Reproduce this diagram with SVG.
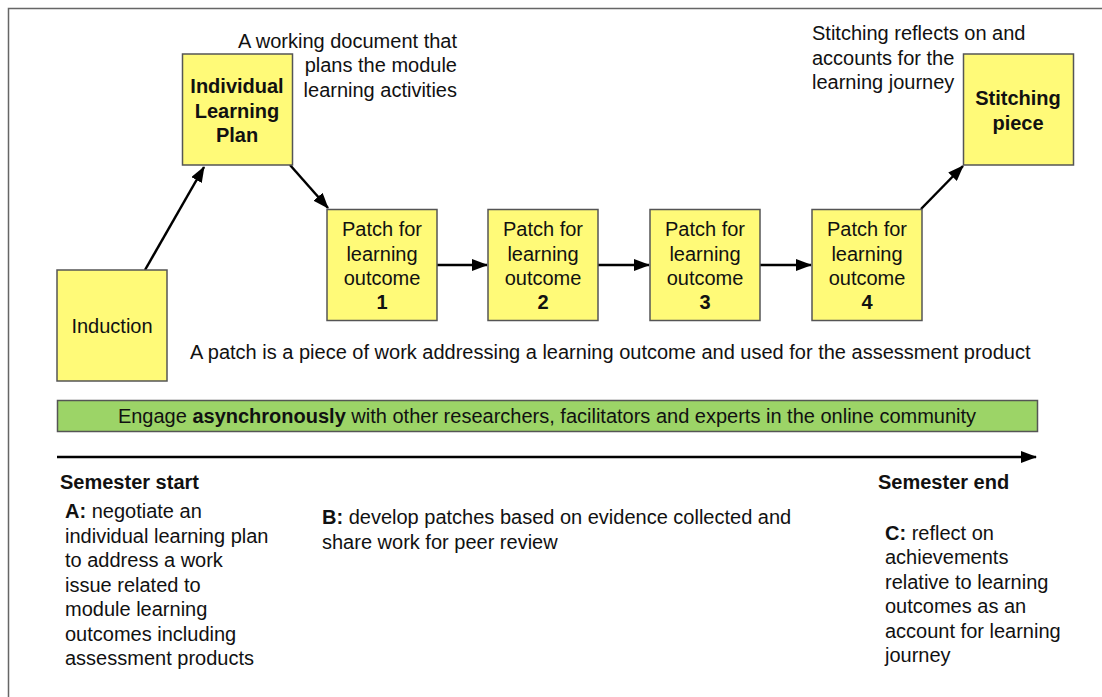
<svg xmlns="http://www.w3.org/2000/svg" width="1102" height="697" viewBox="0 0 1102 697">
  <style>
    text { font-family: "Liberation Sans", Arial, sans-serif; font-size: 20px; fill: #111; }
    .b { font-weight: bold; }
    .c { text-anchor: middle; }
    .r { text-anchor: end; }
    .box { fill: #FFFA78; stroke: #555; stroke-width: 1.5; }
    .bar { fill: #9CD467; stroke: #555; stroke-width: 1.5; }
    .conn { stroke: #000; stroke-width: 2.5; fill: none; marker-end: url(#ah); }
  </style>
  <defs>
    <marker id="ah" viewBox="0 0 16 12" refX="15" refY="6" markerWidth="6.4" markerHeight="4.8" orient="auto" markerUnits="strokeWidth">
      <path d="M0,0 L16,6 L0,12 Z" fill="#000"/>
    </marker>
  </defs>

  <rect width="1102" height="697" fill="#fff"/>
  <!-- outer frame -->
  <path d="M8.5,697 L8.5,8.5 L1102,8.5" fill="none" stroke="#666" stroke-width="1.5"/>

  <!-- connectors -->
  <g id="connectors">
    <line class="conn" x1="145" y1="270" x2="204" y2="167"/>
    <line class="conn" x1="290" y1="165" x2="328" y2="208"/>
    <line class="conn" x1="437" y1="265" x2="487" y2="265"/>
    <line class="conn" x1="598" y1="265" x2="649" y2="265"/>
    <line class="conn" x1="760" y1="265" x2="811" y2="265"/>
    <line class="conn" x1="921" y1="209" x2="963" y2="166"/>
    <line class="conn" x1="57" y1="457" x2="1036" y2="457"/>
  </g>

  <g id="induction">
    <rect class="box" x="57" y="270" width="110" height="111"/>
    <text class="c" x="112" y="333">Induction</text>
  </g>

  <g id="ilp">
    <rect class="box" x="182.5" y="54" width="110" height="111"/>
    <text class="b c" x="237" y="93">Individual</text>
    <text class="b c" x="237" y="118">Learning</text>
    <text class="b c" x="237" y="142">Plan</text>
  </g>

  <g id="patch1">
    <rect class="box" x="327" y="209.5" width="110" height="111"/>
    <text class="c" x="382" y="236">Patch for</text>
    <text class="c" x="382" y="261">learning</text>
    <text class="c" x="382" y="285">outcome</text>
    <text class="b c" x="382" y="309">1</text>
  </g>

  <g id="patch2">
    <rect class="box" x="488" y="209.5" width="110" height="111"/>
    <text class="c" x="543" y="236">Patch for</text>
    <text class="c" x="543" y="261">learning</text>
    <text class="c" x="543" y="285">outcome</text>
    <text class="b c" x="543" y="309">2</text>
  </g>

  <g id="patch3">
    <rect class="box" x="650" y="209.5" width="110" height="111"/>
    <text class="c" x="705" y="236">Patch for</text>
    <text class="c" x="705" y="261">learning</text>
    <text class="c" x="705" y="285">outcome</text>
    <text class="b c" x="705" y="309">3</text>
  </g>

  <g id="patch4">
    <rect class="box" x="812" y="209.5" width="110" height="111"/>
    <text class="c" x="867" y="236">Patch for</text>
    <text class="c" x="867" y="261">learning</text>
    <text class="c" x="867" y="285">outcome</text>
    <text class="b c" x="867" y="309">4</text>
  </g>

  <g id="stitching">
    <rect class="box" x="963.5" y="54" width="110" height="111"/>
    <text class="b c" x="1018" y="105">Stitching</text>
    <text class="b c" x="1018" y="130">piece</text>
  </g>

  <g id="community">
    <rect class="bar" x="57.5" y="400.5" width="980" height="31"/>
    <text class="c" x="547" y="423">Engage <tspan class="b">asynchronously</tspan> with other researchers, facilitators and experts in the online community</text>
  </g>

  <!-- annotations -->
  <g id="notes">
    <text class="r" x="457" y="48">A working document that</text>
    <text class="r" x="457" y="72">plans the module</text>
    <text class="r" x="457" y="97">learning activities</text>

    <text x="812" y="40">Stitching reflects on and</text>
    <text x="812" y="65">accounts for the</text>
    <text x="812" y="89">learning journey</text>

    <text x="190" y="359">A patch is a piece of work addressing a learning outcome and used for the assessment product</text>

    <text class="b" x="60" y="489">Semester start</text>
    <text class="b" x="878" y="489">Semester end</text>

    <text x="65" y="518"><tspan class="b">A:</tspan> negotiate an</text>
    <text x="65" y="543">individual learning plan</text>
    <text x="65" y="567">to address a work</text>
    <text x="65" y="592">issue related to</text>
    <text x="65" y="616">module learning</text>
    <text x="65" y="641">outcomes including</text>
    <text x="65" y="665">assessment products</text>

    <text x="322" y="524"><tspan class="b">B:</tspan> develop patches based on evidence collected and</text>
    <text x="322" y="549">share work for peer review</text>

    <text x="885" y="540"><tspan class="b">C:</tspan> reflect on</text>
    <text x="885" y="564">achievements</text>
    <text x="885" y="589">relative to learning</text>
    <text x="885" y="613">outcomes as an</text>
    <text x="885" y="638">account for learning</text>
    <text x="885" y="662">journey</text>
  </g>
</svg>
